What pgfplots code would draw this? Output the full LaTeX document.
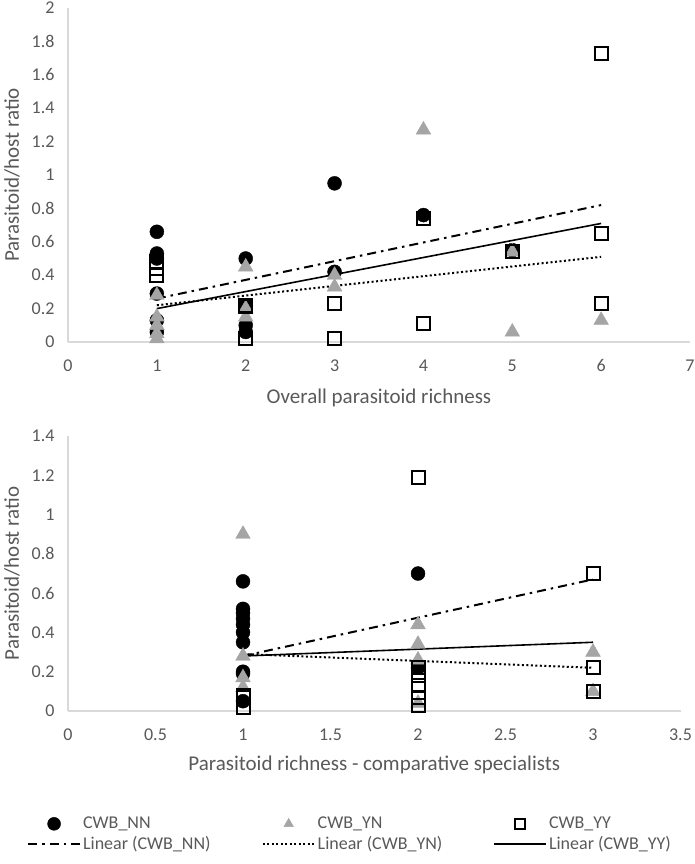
\documentclass[border=0pt]{standalone}
\usepackage{fontspec}
\setmainfont{Carlito}
\usepackage{pgfplots}
\pgfplotsset{compat=1.18}
\definecolor{txt}{HTML}{595959}
\definecolor{axc}{HTML}{D9D9D9}
\definecolor{tri}{HTML}{A5A5A5}
\pgfplotsset{
 common/.style={
  scale only axis,
  axis x line=bottom, axis y line=left,
  axis line style={draw=axc, line width=1.3pt, -},
  major tick length=0pt,
  tick style={draw=none},
  ticklabel style={font=\fontsize{18}{21}\selectfont, text=txt},
  /pgf/number format/assume math mode=true,
  label style={font=\fontsize{21}{24}\selectfont, text=txt},
  yticklabel style={xshift=-10pt},
  xticklabel style={yshift=-14pt},
  clip=false,
 },
 nn/.style={only marks, mark=*, mark size=7pt, color=black, mark options={fill=black, draw=black}},
 yn/.style={only marks, mark=triangle*, mark size=8.5pt, color=tri, mark options={fill=tri, draw=tri}},
 yy/.style={only marks, mark=square, mark size=6.5pt, color=black, mark options={draw=black, line width=2pt}},
 lnn/.style={no marks, black, line width=2pt, dash pattern=on 9pt off 5pt on 2.5pt off 5pt},
 lyn/.style={no marks, black, line width=2pt, dash pattern=on 2pt off 2.5pt},
 lyy/.style={no marks, black, line width=1.6pt},
}
\begin{document}
\begin{tikzpicture}
\path[use as bounding box] (0,0) rectangle (695pt,-864pt);
% top axis
\begin{axis}[common,
  at={(68pt,-342pt)}, anchor=origin,
  width=622pt, height=334pt,
  xmin=0, xmax=7, ymin=0, ymax=2,
  xtick={0,1,2,3,4,5,6,7},
  ytick={0,0.2,0.4,0.6,0.8,1,1.2,1.4,1.6,1.8,2},
  xlabel={Overall parasitoid richness},
  ylabel={Parasitoid/host ratio},
  xlabel style={at={(axis description cs:0.5,-0.166)}, anchor=center},
  ylabel style={at={(axis description cs:-0.09,0.5)}, anchor=center},
]
\addplot[nn] coordinates {(1,0.66)(1,0.53)(1,0.50)(1,0.29)(1,0.13)(1,0.06)(2,0.50)(2,0.22)(2,0.10)(2,0.06)(3,0.95)(3,0.42)(4,0.76)(5,0.55)};
\addplot[yn] coordinates {(1,0.28)(1,0.15)(1,0.10)(1,0.05)(1,0.02)(2,0.45)(2,0.20)(2,0.15)(3,0.40)(3,0.33)(4,1.27)(5,0.54)(5,0.06)(6,0.13)};
\addplot[yy] coordinates {(1,0.48)(1,0.44)(1,0.40)(2,0.22)(2,0.21)(2,0.02)(3,0.23)(3,0.02)(4,0.74)(4,0.11)(5,0.54)(6,1.73)(6,0.65)(6,0.23)};
\addplot[lnn] coordinates {(1,0.26)(6,0.82)};
\addplot[lyn] coordinates {(1,0.22)(6,0.51)};
\addplot[lyy] coordinates {(1,0.20)(6,0.71)};
\end{axis}
% bottom axis
\begin{axis}[common,
  at={(68pt,-711pt)}, anchor=origin,
  width=612.5pt, height=275pt,
  xmin=0, xmax=3.5, ymin=0, ymax=1.4,
  xtick={0,0.5,1,1.5,2,2.5,3,3.5},
  ytick={0,0.2,0.4,0.6,0.8,1,1.2,1.4},
  xlabel={Parasitoid richness - comparative specialists},
  ylabel={Parasitoid/host ratio},
  xlabel style={at={(axis description cs:0.5,-0.196)}, anchor=center},
  ylabel style={at={(axis description cs:-0.0914,0.5)}, anchor=center},
  legend columns=3,
  legend cell align=left,
  legend style={at={(axis description cs:-0.072,-0.371)}, anchor=north west,
    draw=none, fill=none, font=\fontsize{18}{21}\selectfont, text=txt,
    row sep=2pt,
    /tikz/every even column/.append style={column sep=49pt}},
  legend image code/.code={\draw[mark repeat=2,mark phase=2,#1] plot coordinates {(0pt,0pt) (26pt,0pt) (52pt,0pt)};},
]
\addplot[nn, legend image post style={mark size=6.5pt}] coordinates {(1,0.66)(1,0.52)(1,0.50)(1,0.47)(1,0.44)(1,0.40)(1,0.35)(1,0.20)(1,0.19)(1,0.05)(2,0.70)(2,0.22)};
\addplot[yn, legend image post style={mark size=5.5pt}] coordinates {(1,0.90)(1,0.28)(1,0.17)(1,0.12)(2,0.44)(2,0.34)(2,0.26)(2,0.04)(3,0.30)(3,0.10)};
\addplot[yy, legend image post style={mark size=5pt}] coordinates {(1,0.08)(1,0.07)(1,0.02)(2,1.19)(2,0.22)(2,0.18)(2,0.13)(2,0.07)(2,0.03)(3,0.70)(3,0.22)(3,0.10)};
\addplot[lnn] coordinates {(1,0.28)(3,0.67)};
\addplot[lyn] coordinates {(1,0.29)(3,0.22)};
\addplot[lyy] coordinates {(1,0.28)(3,0.35)};
\legend{CWB\_NN, CWB\_YN, CWB\_YY, Linear (CWB\_NN), Linear (CWB\_YN), Linear (CWB\_YY)}
\end{axis}
\end{tikzpicture}
\end{document}
